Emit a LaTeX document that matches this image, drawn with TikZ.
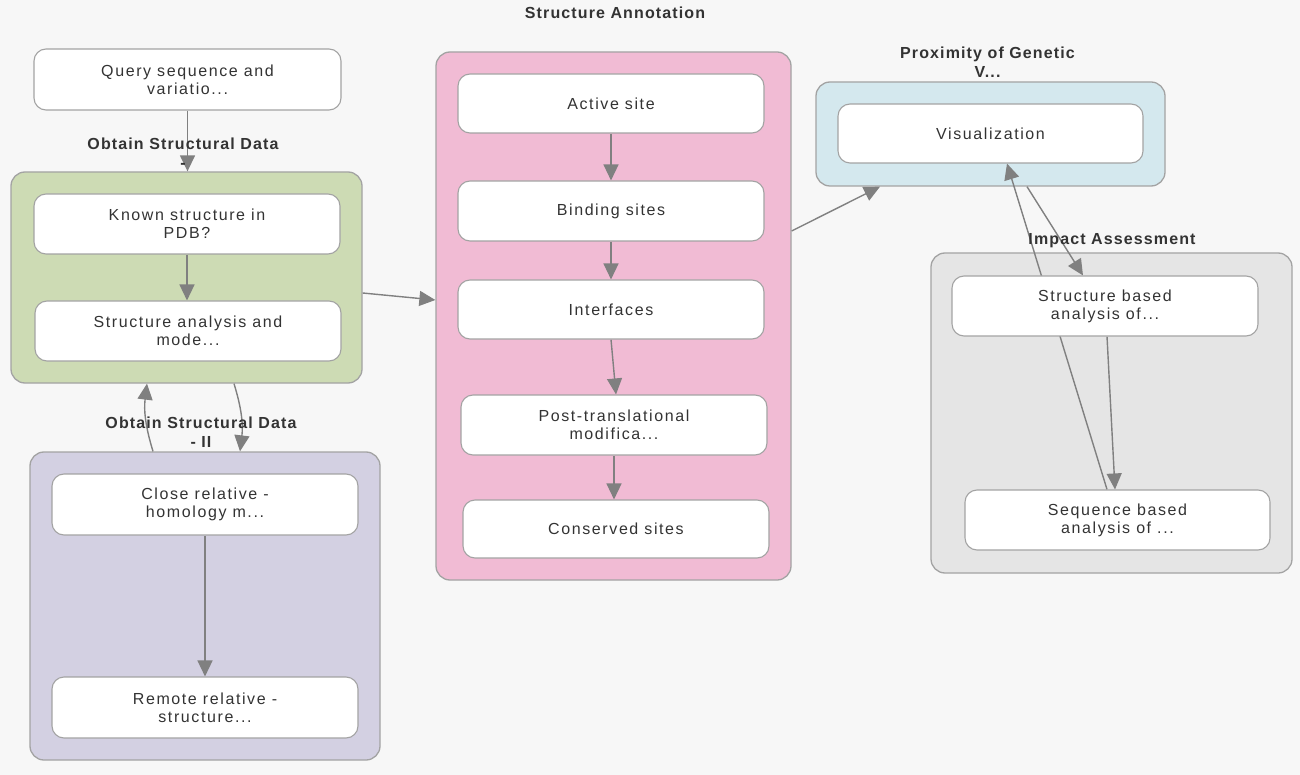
\documentclass[tikz,border=0pt]{standalone}
\usepackage{fontspec}
\setmainfont{Liberation Sans}[LetterSpace=10]
\newfontfamily\lblfont{Liberation Sans}[LetterSpace=7]
\usetikzlibrary{arrows.meta}
\definecolor{bgc}{HTML}{F7F7F7}
\definecolor{greenc}{HTML}{CDDBB4}
\definecolor{pinkc}{HTML}{F1BBD4}
\definecolor{purplec}{HTML}{D3D0E2}
\definecolor{bluec}{HTML}{D4E8EE}
\definecolor{grayc}{HTML}{E5E5E5}
\definecolor{linec}{HTML}{A3A3A3}
\definecolor{arrc}{HTML}{808080}
\definecolor{txtc}{HTML}{333333}
\pgfdeclarelayer{grp}
\pgfdeclarelayer{edg}
\pgfsetlayers{grp,edg,main}
\begin{document}
\begin{tikzpicture}[x=1pt,y=-1pt,
  grpbox/.style={draw=linec, line width=1.3pt, rounded corners=14pt, inner sep=0pt},
  box/.style={draw=linec, fill=white, line width=1.1pt, rounded corners=12pt, inner sep=2pt,
    align=center, text=txtc, font=\fontsize{16}{18}\selectfont},
  lbl/.style={align=center, text=txtc, font=\lblfont\fontsize{16}{19}\selectfont\bfseries, inner sep=0pt},
  arr/.style={draw=arrc, line width=1.4pt, -{Triangle[length=16pt,width=15pt]}}]
\begin{pgfonlayer}{grp}
\fill[bgc] (0,0) rectangle (1300,775);
\node[grpbox, fill=greenc, minimum width=351pt, minimum height=211pt] (green) at (186.5,277.5) {};
\node[grpbox, fill=purplec, minimum width=350pt, minimum height=308pt] (purple) at (205,606) {};
\node[grpbox, fill=pinkc, minimum width=355pt, minimum height=528pt] (pink) at (613.5,316) {};
\node[grpbox, fill=bluec, minimum width=349pt, minimum height=104pt] (blue) at (990.5,134) {};
\node[grpbox, fill=grayc, minimum width=361pt, minimum height=320pt] (gray) at (1111.5,413) {};
\end{pgfonlayer}
\useasboundingbox (0,0) rectangle (1300,775);

\node[box, minimum width=307pt, minimum height=61pt] (query) at (187.5,79.5) {Query sequence and\\variatio...};
\node[box, minimum width=306pt, minimum height=60pt] (known) at (187,224) {Known structure in\\PDB?};
\node[box, minimum width=306pt, minimum height=60pt] (stra) at (188,331) {Structure analysis and\\mode...};
\node[box, minimum width=306pt, minimum height=61pt] (close) at (205,504.5) {Close relative -\\homology m...};
\node[box, minimum width=306pt, minimum height=61pt] (remote) at (205,707.5) {Remote relative -\\structure...};

\node[box, minimum width=306pt, minimum height=59pt] (active) at (611,103.5) {Active site};
\node[box, minimum width=306pt, minimum height=60pt] (binding) at (611,211) {Binding sites};
\node[box, minimum width=306pt, minimum height=59pt] (interf) at (611,309.5) {Interfaces};
\node[box, minimum width=306pt, minimum height=60pt] (post) at (614,425) {Post-translational\\modifica...};
\node[box, minimum width=306pt, minimum height=58pt] (conserved) at (616,529) {Conserved sites};

\node[box, minimum width=305pt, minimum height=59pt] (vis) at (990.5,133.5) {Visualization};
\node[box, minimum width=306pt, minimum height=60pt] (sb) at (1105,306) {Structure based\\analysis of...};
\node[box, minimum width=305pt, minimum height=60pt] (seqb) at (1117.5,520) {Sequence based\\analysis of ...};

\node[lbl] (lgreen) at (183,153) {Obtain Structural Data\\-};
\node[lbl] (lpurple) at (201,432) {Obtain Structural Data\\- II};
\node[lbl] (lpink) at (615,13) {Structure Annotation};
\node[lbl] (lblue) at (987.5,62) {Proximity of Genetic\\V...};
\node[lbl] (lgray) at (1112,241) {Impact Assessment};

\begin{pgfonlayer}{edg}
\draw[arr] (query.south) -- (query.south |- green.north);
\draw[arr] (known.south) -- (known.south |- stra.north);
\draw[arr] ([yshift=-15.5pt]green.east) -- ([yshift=16pt]pink.west);
\draw[arr] ([xshift=47.5pt]green.south) to[bend left=12] ([xshift=35pt]purple.north);
\draw[arr] ([xshift=-52pt]purple.north) to[bend left=12] ([xshift=-39.5pt]green.south);
\draw[arr] (close.south) -- (close.south |- remote.north);
\draw[arr] (active.south) -- (active.south |- binding.north);
\draw[arr] (binding.south) -- (binding.south |- interf.north);
\draw[arr] (interf.south) -- ([xshift=2pt]post.north);
\draw[arr] (post.south) -- ([xshift=-2pt]conserved.north);
\draw[arr] ([yshift=85pt]pink.east) -- ([xshift=-110.5pt]blue.south);
\draw[arr] ([xshift=36.5pt]blue.south) -- ([xshift=-22pt]sb.north);
\draw[arr] ([xshift=2pt]sb.south) -- ([xshift=-2.5pt]seqb.north);
\draw[arr] ([xshift=-10.5pt]seqb.north) -- ([xshift=16.5pt]vis.south);
\end{pgfonlayer}
\end{tikzpicture}
\end{document}
